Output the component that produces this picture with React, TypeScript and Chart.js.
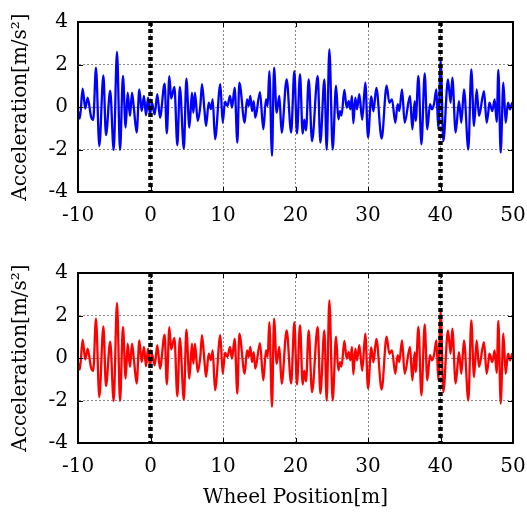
import React, { useEffect, useRef } from "react";
import { Chart, registerables } from "chart.js";

Chart.register(...registerables);

// Wheel position [m] of each read point
const positions = [
  -10.0, -9.75, -9.36, -9.0, -8.67, -8.2, -7.9, -7.52, -7.06, -6.5,
  -6.14, -5.56, -5.08, -4.62, -4.2, -3.8, -3.43, -3.15, -2.83, -2.55,
  -2.28, -1.91, -1.54, -1.22, -0.9, -0.62, -0.34, -0.07, 0.2, 0.57,
  0.94, 1.31, 1.95, 2.25, 2.6, 2.85, 3.3, 3.7, 4.05, 4.6,
  4.95, 5.36, 5.72, 5.91, 6.14, 6.51, 6.87, 7.1, 7.43, 7.66,
  8.03, 8.34, 8.58, 8.9, 9.63, 9.96, 10.28, 10.6, 10.97, 11.24,
  11.61, 11.98, 12.25, 12.99, 13.31, 13.54, 13.77, 14.0, 14.23, 14.46,
  15.1, 15.56, 15.93, 16.16, 16.39, 16.76, 17.04, 17.4, 17.77, 18.09,
  18.78, 19.4, 19.84, 20.2, 20.62, 20.99, 21.2, 21.45, 21.82, 22.28,
  23.06, 23.43, 23.98, 24.3, 24.67, 25.13, 25.59, 25.91, 26.15, 26.35,
  26.74, 27.06, 27.34, 27.56, 27.79, 27.98, 28.25, 28.48, 28.8, 29.2,
  29.63, 30.0, 30.45, 30.75, 31.15, 31.88, 32.57, 32.94, 33.31, 33.77,
  34.09, 34.32, 34.69, 35.06, 35.79, 36.12, 36.44, 36.58, 36.95, 37.37,
  37.82, 38.18, 38.55, 38.83, 39.1, 39.43, 39.7, 40.02, 40.39, 41.03,
  41.4, 41.63, 42.09, 42.55, 42.87, 43.24, 43.84, 44.25, 44.62, 44.99,
  45.31, 46.0, 46.37, 46.69, 46.75, 47.15, 47.47, 47.75, 47.98, 48.3,
  48.67, 48.99, 49.31, 49.59, 49.91, 50.0,
];

// Acceleration [m/s^2], upper (blue) panel
const accelTop = [
  -0.2, -0.55, 0.86, -0.08, 0.44, -0.45, -0.6, 1.85, -1.84, 1.49,
  -1.32, 0.77, -2.02, 2.59, -2.02, 1.46, -0.97, 0.67, -0.42, 0.67,
  -0.1, -1.2, 0.83, -0.19, 0.52, -0.39, 0.44, -0.35, 0.2, -0.35,
  0.6, -0.5, 1.1, -1.24, 1.45, 0.4, 0.95, -1.8, 0.95, -1.97,
  1.33, -0.97, 0.67, -0.27, 0.67, -0.66, 0.05, 1.07, -0.1, -0.9,
  0.2, -0.1, 0.36, -1.52, 1.07, -0.74, 0.25, 0.05, 0.52, -0.03,
  0.91, -1.68, 1.15, -0.74, 0.36, 0.05, 0.52, -0.19, 0.28, -0.5,
  0.7, -1.05, 0.36, 0.05, 1.69, -2.3, 1.85, -0.27, 0.52, -1.21,
  1.3, -1.2, 1.69, -1.25, 1.54, -1.25, -0.6, -1.1, 1.3, -1.6,
  1.46, -1.68, 1.3, -2.0, 2.71, -2.0, 1.0, -0.58, -0.2, -0.4,
  0.8, -0.03, 0.28, -0.11, 0.52, -0.77, 0.44, -0.11, 0.6, -0.6,
  1.15, -1.44, 0.5, -0.2, 0.9, -1.49, 1.0, 0.2, 0.36, -0.74,
  0.13, -0.19, 0.83, -0.74, 0.52, -1.05, 0.28, -0.66, 1.46, -1.76,
  1.58, -1.05, 0.13, -0.11, 0.13, 0.83, -1.05, 2.2, -1.6, 1.3,
  0.2, 1.38, -1.2, 0.28, -0.74, 0.83, -2.0, 1.77, -0.9, 0.83,
  -0.42, 0.75, -0.74, 0.05, 0.2, -0.19, 0.36, -0.7, 1.74, -2.15,
  1.15, -0.74, 0.2, -0.11, 0.2, 0.05,
];

// Acceleration [m/s^2], lower (red) panel – reads the same as the upper one
const accelBottom = [...accelTop];

// Thick dashed markers
const markerPositions = [0, 40];

// Axis ticks
const xTickValues = [-10, 0, 10, 20, 30, 40, 50];
const yTickValues = [-4, -2, 0, 2, 4];

const FONT = "'DejaVu Serif', 'Liberation Serif', serif";

const framePlugin = {
  id: "frameBox",
  afterDatasetsDraw(chart: any) {
    const { ctx, chartArea: a, scales } = chart;
    ctx.save();
    ctx.strokeStyle = "#000";
    ctx.lineWidth = 1;
    ctx.setLineDash([]);
    const tl = 5;
    for (const t of scales.x.ticks) {
      const px = Math.round(scales.x.getPixelForValue(t.value)) + 0.5;
      ctx.beginPath();
      ctx.moveTo(px, a.bottom);
      ctx.lineTo(px, a.bottom - tl);
      ctx.moveTo(px, a.top);
      ctx.lineTo(px, a.top + tl);
      ctx.stroke();
    }
    for (const t of scales.y.ticks) {
      const py = Math.round(scales.y.getPixelForValue(t.value)) + 0.5;
      ctx.beginPath();
      ctx.moveTo(a.left, py);
      ctx.lineTo(a.left + tl, py);
      ctx.moveTo(a.right, py);
      ctx.lineTo(a.right - tl, py);
      ctx.stroke();
    }
    ctx.lineWidth = 2;
    ctx.strokeRect(a.left, a.top, a.right - a.left, a.bottom - a.top);
    ctx.restore();
  },
};

function buildConfig(
  values: number[],
  color: string,
  xTitle: string | null,
  padTop: number,
  xAxisHeight: number
): any {
  const signal = positions.map((x, i) => ({ x, y: values[i] }));
  const markers = markerPositions.map((m) => ({
    data: [
      { x: m, y: yTickValues[yTickValues.length - 1] },
      { x: m, y: yTickValues[0] },
    ],
    borderColor: "#000",
    borderWidth: 4.5,
    borderDash: [4, 3],
    pointRadius: 0,
    order: 0,
  }));
  return {
    type: "line",
    data: {
      datasets: [
        ...markers,
        {
          data: signal,
          borderColor: color,
          borderWidth: 2.3,
          pointRadius: 0,
          cubicInterpolationMode: "monotone",
          order: 1,
        },
      ],
    },
    options: {
      responsive: false,
      animation: false,
      events: [],
      layout: { autoPadding: false, padding: { top: padTop, right: 14, left: 0, bottom: 0 } },
      plugins: { legend: { display: false }, tooltip: { enabled: false } },
      scales: {
        x: {
          type: "linear",
          min: xTickValues[0],
          max: xTickValues[xTickValues.length - 1],
          afterBuildTicks: (s: any) => {
            s.ticks = xTickValues.map((v) => ({ value: v }));
          },
          afterFit: (s: any) => {
            s.height = xAxisHeight;
            s.paddingLeft = 0;
            s.paddingRight = 0;
          },
          grid: { color: "#8a8a8a", lineWidth: 1, drawTicks: false },
          border: { display: true, color: "#000", width: 2, dash: [2, 2] },
          ticks: {
            color: "#000",
            padding: 12,
            font: { family: FONT, size: 20 },
            maxRotation: 0,
          },
          title: xTitle
            ? {
                display: true,
                text: xTitle,
                color: "#000",
                font: { family: FONT, size: 20 },
                padding: { top: 0, bottom: 4 },
              }
            : { display: false },
        },
        y: {
          type: "linear",
          min: yTickValues[0],
          max: yTickValues[yTickValues.length - 1],
          afterBuildTicks: (s: any) => {
            s.ticks = yTickValues.map((v) => ({ value: v }));
          },
          afterFit: (s: any) => {
            s.width = 78;
            s.paddingTop = 0;
            s.paddingBottom = 0;
          },
          grid: { color: "#8a8a8a", lineWidth: 1, drawTicks: false },
          border: { display: true, color: "#000", width: 2, dash: [2, 2] },
          ticks: {
            color: "#000",
            padding: 10,
            font: { family: FONT, size: 20 },
          },
          title: {
            display: true,
            text: "Acceleration[m/s²]",
            color: "#000",
            font: { family: FONT, size: 20 },
            padding: { top: 9, bottom: 0 },
          },
        },
      },
    },
    plugins: [framePlugin],
  };
}

function Panel(props: {
  values: number[];
  color: string;
  xTitle: string | null;
  top: number;
  height: number;
  padTop: number;
  xAxisHeight: number;
}) {
  const ref = useRef<HTMLCanvasElement | null>(null);
  useEffect(() => {
    if (!ref.current) return;
    const chart = new Chart(
      ref.current,
      buildConfig(props.values, props.color, props.xTitle, props.padTop, props.xAxisHeight)
    );
    return () => chart.destroy();
  }, []);
  return (
    <canvas
      ref={ref}
      width={527}
      height={props.height}
      style={{
        position: "absolute",
        left: 0,
        top: props.top,
        width: 527,
        height: props.height,
        display: "block",
      }}
    />
  );
}

export default function App() {
  return (
    <div
      style={{
        position: "absolute",
        left: 0,
        top: 0,
        width: 527,
        height: 514,
        background: "#fff",
      }}
    >
      <Panel values={accelTop} color="#0000ff" xTitle={null} top={0} height={257} padTop={22} xAxisHeight={65} />
      <Panel
        values={accelBottom}
        color="#ff0000"
        xTitle="Wheel Position[m]"
        top={257}
        height={257}
        padTop={16}
        xAxisHeight={71}
      />
    </div>
  );
}
